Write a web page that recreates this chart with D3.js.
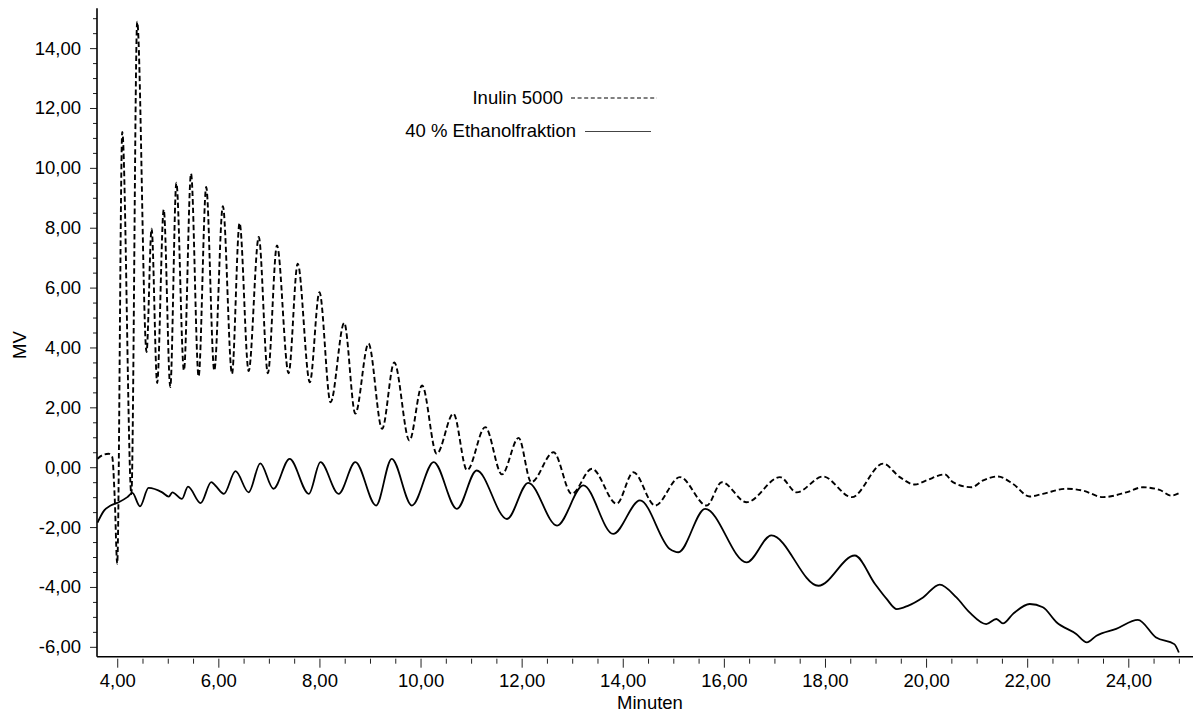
<!DOCTYPE html>
<html>
<head>
<meta charset="utf-8">
<script src="https://cdn.jsdelivr.net/npm/d3@7"></script>
<style>
  html, body { margin: 0; padding: 0; background: #fff; }
  svg { display: block; font-family: "Liberation Sans", Arial, sans-serif; }
</style>
</head>
<body>
<svg id="chart" width="1196" height="715"></svg>
<script>
// ---- Data ----
const seriesNames = ["Inulin 5000", "40 % Ethanolfraktion"];

const inulinMin = [3.61, 3.73, 3.83, 3.90, 3.95, 4.00, 4.10, 4.28, 4.395, 4.58, 4.68, 4.79, 4.92, 5.05, 5.17, 5.32, 5.46, 5.61, 5.76, 5.92, 6.09, 6.27, 6.42, 6.60, 6.80, 6.98, 7.16, 7.39, 7.57, 7.81, 8.00, 8.22, 8.49, 8.71, 8.97, 9.24, 9.48, 9.78, 10.03, 10.32, 10.65, 10.92, 11.28, 11.61, 11.94, 12.19, 12.63, 12.99, 13.39, 13.88, 14.21, 14.64, 15.13, 15.66, 15.96, 16.45, 17.11, 17.44, 17.96, 18.53, 19.15, 19.48, 19.78, 20.01, 20.37, 20.53, 20.90, 21.13, 21.42, 21.72, 22.05, 22.31, 22.77, 23.10, 23.50, 23.96, 24.29, 24.62, 24.85, 25.00];
const inulinMV  = [0.28, 0.42, 0.45, 0.35, -1.0, -3.22, 11.2, -0.9, 14.88, 3.85, 7.97, 2.81, 8.61, 2.68, 9.50, 3.23, 9.81, 3.03, 9.36, 3.23, 8.72, 3.12, 8.16, 3.21, 7.69, 3.14, 7.41, 3.14, 6.80, 2.84, 5.85, 2.17, 4.82, 1.79, 4.13, 1.28, 3.50, 0.89, 2.73, 0.45, 1.79, -0.10, 1.34, -0.24, 0.98, -0.50, 0.50, -0.89, -0.05, -1.22, -0.17, -1.28, -0.33, -1.28, -0.50, -1.17, -0.33, -0.84, -0.31, -1.00, 0.12, -0.33, -0.58, -0.44, -0.24, -0.50, -0.67, -0.44, -0.31, -0.56, -0.98, -0.89, -0.72, -0.78, -1.00, -0.84, -0.67, -0.76, -0.95, -0.87];

const ethanolMin = [3.61, 3.74, 3.87, 4.03, 4.20, 4.30, 4.45, 4.62, 4.89, 5.02, 5.09, 5.28, 5.40, 5.65, 5.86, 5.94, 6.11, 6.34, 6.60, 6.83, 7.09, 7.41, 7.79, 8.02, 8.38, 8.71, 9.12, 9.43, 9.83, 10.26, 10.72, 11.11, 11.71, 12.13, 12.70, 13.22, 13.81, 14.34, 14.93, 15.10, 15.63, 16.45, 16.94, 17.87, 18.59, 18.99, 19.22, 19.42, 19.64, 19.94, 20.27, 20.60, 20.86, 21.19, 21.39, 21.52, 21.72, 22.05, 22.31, 22.58, 22.97, 23.18, 23.37, 23.76, 24.19, 24.55, 24.91, 25.00];
const ethanolMV  = [-1.85, -1.45, -1.28, -1.17, -1.00, -0.86, -1.31, -0.69, -0.84, -0.98, -0.84, -1.06, -0.65, -1.20, -0.50, -0.61, -0.89, -0.13, -0.84, 0.13, -0.72, 0.28, -0.89, 0.17, -0.89, 0.17, -1.28, 0.28, -1.28, 0.17, -1.39, -0.11, -1.73, -0.52, -1.95, -0.61, -2.23, -1.11, -2.73, -2.84, -1.39, -3.18, -2.28, -3.96, -2.95, -3.90, -4.40, -4.74, -4.63, -4.35, -3.92, -4.35, -4.85, -5.24, -5.07, -5.22, -4.90, -4.57, -4.68, -5.18, -5.57, -5.85, -5.63, -5.40, -5.10, -5.69, -5.91, -6.19];

const xMajorTicks = [4, 6, 8, 10, 12, 14, 16, 18, 20, 22, 24];
const yMajorTicks = [-6, -4, -2, 0, 2, 4, 6, 8, 10, 12, 14];
const xDomain = [3.6, 25.28];
const yDomain = [-6.33, 15.33];

// ---- Layout ----
const svg = d3.select("#chart");
const mLeft = 97, mRight = 1193, mTop = 8.3, mBottom = 656.7;
const FS = 18.5;

const x = d3.scaleLinear().domain(xDomain).range([mLeft, mRight]);
const y = d3.scaleLinear().domain(yDomain).range([mBottom, mTop]);

const fmt = v => d3.format(".2f")(v).replace(".", ",").replace("\u2212", "-");

const xMinor = d3.range(4, 25.01, 0.5).filter(v => !xMajorTicks.includes(v));
const yMinor = d3.range(-6, 15.01, 0.5).filter(v => !yMajorTicks.includes(v));

// x axis: minor ticks
svg.append("g")
  .attr("transform", `translate(0,${mBottom + 2})`)
  .call(d3.axisBottom(x).tickValues(xMinor).tickSize(5).tickFormat(""))
  .call(g => g.select(".domain").remove())
  .call(g => g.selectAll("line").attr("stroke", "#222"));

// x axis: major ticks + labels
svg.append("g")
  .attr("transform", `translate(0,${mBottom + 2})`)
  .call(d3.axisBottom(x).tickValues(xMajorTicks).tickSize(9).tickPadding(6).tickFormat(fmt))
  .call(g => g.select(".domain").remove())
  .call(g => g.selectAll("line").attr("stroke", "#222"))
  .call(g => g.selectAll("text").attr("font-size", FS).attr("fill", "#000")
        .attr("font-family", "Liberation Sans, Arial, sans-serif"));

// y axis: minor ticks
svg.append("g")
  .attr("transform", `translate(${mLeft},0)`)
  .call(d3.axisLeft(y).tickValues(yMinor).tickSize(4).tickFormat(""))
  .call(g => g.select(".domain").remove())
  .call(g => g.selectAll("line").attr("stroke", "#222"));

// y axis: major ticks + labels
svg.append("g")
  .attr("transform", `translate(${mLeft},0)`)
  .call(d3.axisLeft(y).tickValues(yMajorTicks).tickSize(7).tickPadding(9).tickFormat(fmt))
  .call(g => g.select(".domain").remove())
  .call(g => g.selectAll("line").attr("stroke", "#222"))
  .call(g => g.selectAll("text").attr("font-size", FS).attr("fill", "#000")
        .attr("font-family", "Liberation Sans, Arial, sans-serif"));

// axis lines
svg.append("line").attr("x1", mLeft).attr("x2", mLeft).attr("y1", mTop).attr("y2", mBottom)
  .attr("stroke", "#000").attr("stroke-width", 1.6);
svg.append("line").attr("x1", mLeft).attr("x2", mRight).attr("y1", mBottom).attr("y2", mBottom)
  .attr("stroke", "#000").attr("stroke-width", 1.6);

// axis titles
svg.append("text").attr("x", 650).attr("y", 709).attr("text-anchor", "middle")
  .attr("font-size", FS).attr("fill", "#000").text("Minuten");
svg.append("text").attr("transform", "translate(26,345) rotate(-90)")
  .attr("text-anchor", "middle").attr("font-size", FS).attr("fill", "#000").text("MV");

// ---- Lines ----
const line = d3.line().x(d => x(d[0])).y(d => y(d[1])).curve(d3.curveMonotoneX);
const inulin = inulinMin.map((m, i) => [m, inulinMV[i]]);
const ethanol = ethanolMin.map((m, i) => [m, ethanolMV[i]]);

svg.append("path").datum(inulin).attr("d", line)
  .attr("fill", "none").attr("stroke", "#000").attr("stroke-width", 1.9)
  .attr("stroke-dasharray", "5.5,3");
svg.append("path").datum(ethanol).attr("d", line)
  .attr("fill", "none").attr("stroke", "#000").attr("stroke-width", 1.8);

// ---- Legend ----
const legend = svg.append("g");
legend.append("text").attr("x", 563).attr("y", 104).attr("text-anchor", "end")
  .attr("font-size", FS).attr("fill", "#000").text(seriesNames[0]);
legend.append("line").attr("x1", 571).attr("x2", 657).attr("y1", 98).attr("y2", 98)
  .attr("stroke", "#000").attr("stroke-width", 1).attr("stroke-dasharray", "4,2.6");
legend.append("text").attr("x", 576).attr("y", 137).attr("text-anchor", "end")
  .attr("font-size", FS).attr("fill", "#000").text(seriesNames[1]);
legend.append("line").attr("x1", 585).attr("x2", 651).attr("y1", 131.5).attr("y2", 131.5)
  .attr("stroke", "#444").attr("stroke-width", 1);
</script>
</body>
</html>
